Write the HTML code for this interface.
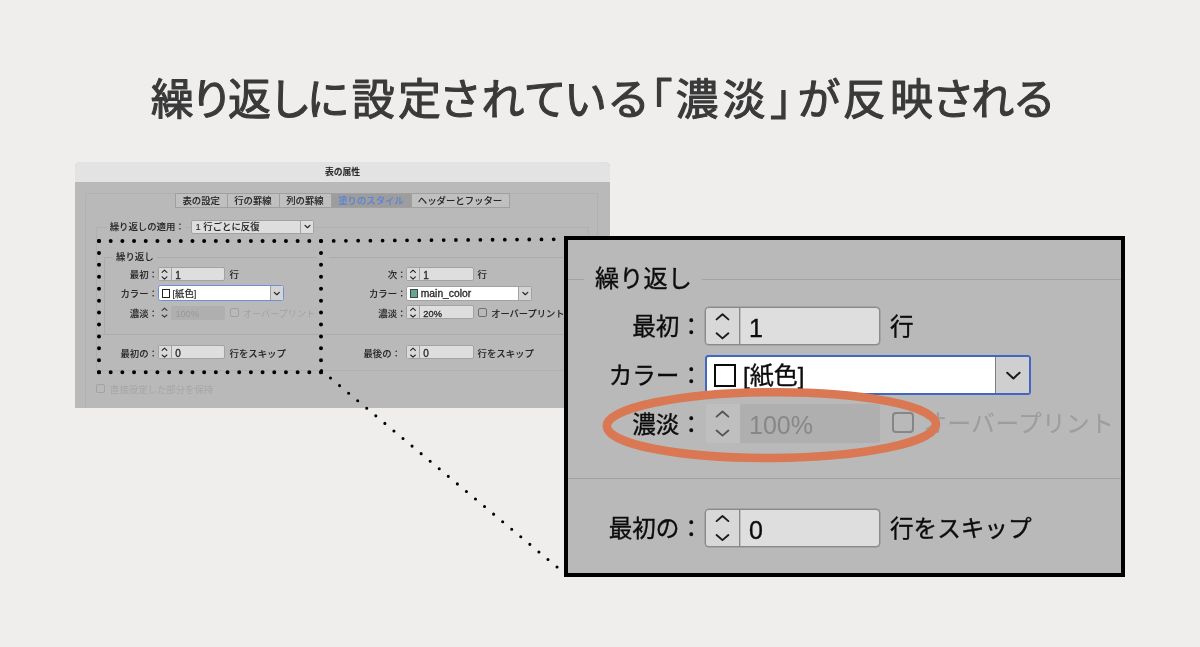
<!DOCTYPE html><html lang="ja"><head><meta charset="utf-8"><title>繰り返しに設定されている「濃淡」が反映される</title><style>
html,body{margin:0;padding:0;}
body{width:1200px;height:647px;overflow:hidden;background:#efeeec;font-family:"Liberation Sans", "Noto Sans CJK JP", sans-serif;}
#stage{will-change:transform;position:relative;width:1200px;height:647px;overflow:hidden;background:#efeeec;}
#stage *{box-sizing:border-box;}
.abs{position:absolute;}
svg{position:absolute;left:0;top:0;overflow:visible;}
svg text{font-family:"Liberation Sans", "Noto Sans CJK JP", sans-serif;}
/* ---------- small dialog ---------- */
.dlg{position:absolute;left:75px;top:162px;width:535px;height:245.5px;background:#b9b9b9;border-radius:5px 5px 0 0;overflow:hidden;font-size:9.4px;color:#262626;font-weight:500;-webkit-text-stroke-width:0.08px;}
.dlg .bar{position:absolute;left:0;top:0;width:100%;height:20px;background:#e3e3e4;text-align:center;line-height:20px;font-weight:700;font-size:8.8px;color:#2a2a2a;}
.t{position:absolute;white-space:nowrap;line-height:14px;height:14px;}
.r{text-align:right;}
.tabs{position:absolute;left:100px;top:31px;height:14.5px;display:flex;border:1px solid #a0a0a0;background:#c0c0c0;}
.tabs div{line-height:14.8px;height:12.5px;text-align:center;border-right:1px solid #a0a0a0;white-space:nowrap;}
.tabs div:last-child{border-right:0;}
.tabs .on{background:#9d9d9d;color:#5b84d6;}
.fld{position:absolute;background:#dedede;border:1px solid #a2a2a2;border-radius:2px;}
.fld i{position:absolute;left:0;top:0;bottom:0;border-right:1px solid #a2a2a2;background:#d9d9d9;}
.sel{position:absolute;background:#fff;border:1px solid #a2a2a2;border-radius:2px;}
.sel i{position:absolute;right:0;top:0;bottom:0;border-left:1px solid #a2a2a2;background:#d4d4d4;}
.ln{position:absolute;background:#acacac;}
.cb{position:absolute;border:1px solid #6e6e6e;border-radius:2px;}
.dis{color:#a2a2a2;-webkit-text-stroke-width:0;font-weight:400;}
/* ---------- zoom panel ---------- */
.pnl{position:absolute;left:564px;top:236px;width:561px;height:341px;background:#000;overflow:hidden;font-size:23.6px;color:#0c0c0c;font-weight:400;-webkit-text-stroke-width:0.35px;}
.pnl .bg{position:absolute;left:3.6px;top:3.6px;right:3.6px;bottom:3.6px;background:#b9b9b9;}
.pnl .t{line-height:34px;height:34px;}
</style></head><body><div id="stage">
<svg width="1200" height="647" viewBox="0 0 1200 647"><text y="115" font-size="43" font-weight="400" fill="#3a3a3a" stroke="#3a3a3a" stroke-width="1.1" stroke-linejoin="round" x="150.8 190.2 228.1 268.5 306.8 351.8 398.0 438.8 481.6 523.6 564.1 607.0 629.6 675.6 722.6 769.9 797.5 842.8 890.0 931.8 971.2 1012.8">繰り返しに設定されている「濃淡」が反映される</text></svg>
<div class="dlg"><div class="bar">表の属性</div><div class="abs" style="left:10px;top:31px;width:513px;height:230px;border:1px solid #b1b1b1;border-bottom:0;"></div><div class="abs" style="left:21px;top:65px;width:492.5px;height:144px;border:1px solid #b0b0b0;"></div><div class="tabs"><div style="width:51.5px">表の設定</div><div style="width:52px">行の罫線</div><div style="width:52px">列の罫線</div><div class="on" style="width:80px">塗りのスタイル</div><div style="width:97px">ヘッダーとフッター</div></div><div class="t r" style="top:57.80px;right:425.30px;background:#b9b9b9;padding-left:3px;">繰り返しの適用：</div><div class="sel" style="left:116px;top:57.5px;width:123px;height:14px;background:#dedede"><i style="width:13px;background:#dedede"></i></div><div class="t " style="top:57.90px;left:120.50px;">1 行ごとに反復</div><div class="ln" style="left:28.5px;top:94.5px;width:213px;height:1px"></div><div class="ln" style="left:28.5px;top:94.5px;width:1px;height:77px"></div><div class="ln" style="left:21px;top:171.5px;width:492px;height:1px"></div><div class="t " style="top:87.80px;left:38.00px;background:#b9b9b9;padding:0 3px;">繰り返し</div><div class="ln" style="left:254px;top:94.5px;width:236px;height:1px"></div><div class="t r" style="top:106.40px;right:452.00px;">最初：</div><div class="fld" style="left:83.0px;top:105.3px;width:67.0px;height:14px"><i style="width:13px"></i></div><div class="t " style="top:106.50px;left:100.30px;font-size:10px;-webkit-text-stroke-width:0.3px">1</div><div class="t " style="top:106.40px;left:154.50px;">行</div><div class="t r" style="top:106.40px;right:203.50px;">次：</div><div class="fld" style="left:331.0px;top:105.3px;width:68.0px;height:14px"><i style="width:13px"></i></div><div class="t " style="top:106.50px;left:348.30px;font-size:10px;-webkit-text-stroke-width:0.3px">1</div><div class="t " style="top:106.40px;left:402.50px;">行</div><div class="t r" style="top:125.40px;right:452.00px;">カラー：</div><div class="sel" style="left:82.5px;top:122.7px;width:126px;height:16.5px;border:1.5px solid #6c8fd8;border-radius:2.5px"><i style="width:12.5px"></i></div><div class="abs" style="left:86.5px;top:127.0px;width:8.5px;height:8.5px;border:1px solid #222;background:#fff"></div><div class="t " style="top:125.40px;left:97.50px;">[紙色]</div><div class="t r" style="top:125.40px;right:203.50px;">カラー：</div><div class="sel" style="left:331px;top:124.0px;width:125.5px;height:14.5px"><i style="width:13px"></i></div><div class="abs" style="left:334.6px;top:127.2px;width:8.5px;height:8.5px;border:1px solid #3c4a45;background:#6aa68f"></div><div class="t " style="top:125.30px;left:345.80px;font-size:10.3px;-webkit-text-stroke-width:0.3px">main_color</div><div class="t r" style="top:144.50px;right:452.00px;">濃淡：</div><div class="abs" style="left:96px;top:143.5px;width:54px;height:14px;background:#afafaf;border-radius:1px"></div><div class="t dis" style="top:144.60px;left:100.50px;color:#989898;font-size:9.1px">100%</div><div class="cb" style="left:154.5px;top:145.5px;width:9px;height:9px;border-color:#a0a0a0"></div><div class="t dis" style="top:144.50px;left:168.00px;font-size:9.1px">オーバープリント</div><div class="t r" style="top:144.50px;right:203.50px;">濃淡：</div><div class="fld" style="left:331.0px;top:143.4px;width:68.0px;height:14px"><i style="width:13px"></i></div><div class="t " style="top:144.60px;left:348.30px;font-size:9.3px;-webkit-text-stroke-width:0.3px">20%</div><div class="t " style="top:144.50px;left:402.50px;"></div><div class="cb" style="left:403px;top:145.5px;width:9px;height:9px"></div><div class="t " style="top:144.50px;left:416.20px;font-size:9.25px">オーバープリント</div><div class="ln" style="left:28.5px;top:171.5px;width:460px;height:1px"></div><div class="t r" style="top:184.50px;right:452.00px;">最初の：</div><div class="fld" style="left:83.0px;top:183.4px;width:67.0px;height:14px"><i style="width:13px"></i></div><div class="t " style="top:184.60px;left:100.30px;font-size:10px;-webkit-text-stroke-width:0.3px">0</div><div class="t " style="top:184.50px;left:154.50px;">行をスキップ</div><div class="t r" style="top:184.50px;right:209.00px;">最後の：</div><div class="fld" style="left:331.0px;top:183.4px;width:68.0px;height:14px"><i style="width:13px"></i></div><div class="t " style="top:184.60px;left:348.30px;font-size:10px;-webkit-text-stroke-width:0.3px">0</div><div class="t " style="top:184.50px;left:402.50px;">行をスキップ</div><div class="cb" style="left:21.3px;top:222.3px;width:9px;height:9px;border-color:#a3a3a3"></div><div class="t dis" style="top:220.90px;left:35.00px;color:#a6a6a6">直接設定した部分を保持</div></div>
<svg width="1200" height="647" viewBox="0 0 1200 647"><path d="M162.10 272.30 l2.4 -2.2 l2.4 2.2 M162.10 276.90 l2.4 2.2 l2.4 -2.2" fill="none" stroke="#222" stroke-width="1.1" stroke-linecap="round" stroke-linejoin="round"/><path d="M162.10 310.40 l2.4 -2.2 l2.4 2.2 M162.10 315.00 l2.4 2.2 l2.4 -2.2" fill="none" stroke="#383838" stroke-width="1.1" stroke-linecap="round" stroke-linejoin="round"/><path d="M162.10 350.40 l2.4 -2.2 l2.4 2.2 M162.10 355.00 l2.4 2.2 l2.4 -2.2" fill="none" stroke="#222" stroke-width="1.1" stroke-linecap="round" stroke-linejoin="round"/><path d="M410.60 272.30 l2.4 -2.2 l2.4 2.2 M410.60 276.90 l2.4 2.2 l2.4 -2.2" fill="none" stroke="#222" stroke-width="1.1" stroke-linecap="round" stroke-linejoin="round"/><path d="M410.60 310.40 l2.4 -2.2 l2.4 2.2 M410.60 315.00 l2.4 2.2 l2.4 -2.2" fill="none" stroke="#222" stroke-width="1.1" stroke-linecap="round" stroke-linejoin="round"/><path d="M410.60 350.40 l2.4 -2.2 l2.4 2.2 M410.60 355.00 l2.4 2.2 l2.4 -2.2" fill="none" stroke="#222" stroke-width="1.1" stroke-linecap="round" stroke-linejoin="round"/><path d="M305.00 225.40 l2.5 2.3 l2.5 -2.3" fill="none" stroke="#222" stroke-width="1.2" stroke-linecap="round" stroke-linejoin="round"/><path d="M274.30 292.40 l2.5 2.3 l2.5 -2.3" fill="none" stroke="#222" stroke-width="1.2" stroke-linecap="round" stroke-linejoin="round"/><path d="M522.80 292.40 l2.5 2.3 l2.5 -2.3" fill="none" stroke="#222" stroke-width="1.2" stroke-linecap="round" stroke-linejoin="round"/><path d="M99 241 H321.1" fill="none" stroke="#000" stroke-width="4" stroke-linecap="round" stroke-dasharray="0 11.684"/><path d="M99 372.2 H321.1" fill="none" stroke="#000" stroke-width="4" stroke-linecap="round" stroke-dasharray="0 11.684"/><path d="M99 241 V372.3" fill="none" stroke="#000" stroke-width="4" stroke-linecap="round" stroke-dasharray="0 11.927"/><path d="M321 241 V372.3" fill="none" stroke="#000" stroke-width="4" stroke-linecap="round" stroke-dasharray="0 11.927"/><path d="M333.7 240.9 L554 239.3" fill="none" stroke="#000" stroke-width="3.8" stroke-linecap="round" stroke-dasharray="0 12.222"/><path d="M321.45 370.5 L557.45 567.4" fill="none" stroke="#000" stroke-width="3.1" stroke-linecap="round" stroke-dasharray="0 11.8"/></svg>
<div class="pnl"><div class="bg"></div><div class="abs" style="left:3.60px;top:42.50px;width:553.80px;height:1.00px;background:#a3a3a3"></div><div class="t " style="top:25.50px;left:19.80px;background:#b9b9b9;padding:0 0 0 11.3px;width:118.7px;font-size:24.2px">繰り返し</div><div class="abs" style="left:3.60px;top:242.30px;width:553.80px;height:1.20px;background:#a1a1a1"></div><div class="t r" style="top:74.30px;right:422.00px;">最初：</div><div class="abs" style="left:141.30px;top:70.80px;width:174.40px;height:38.00px;background:#dedede;border:1px solid #8a8a8a;box-shadow:0 0 0 0.5px #8f8f8f;border-radius:4px;overflow:hidden"><div class="abs" style="left:0;top:0;width:33.5px;height:100%;background:#d8d8d8;border-right:1px solid #8a8a8a;box-shadow:0 0 0 0.4px #8f8f8f"></div></div><div class="t " style="top:74.80px;left:185.00px;font-size:25px">1</div><div class="t " style="top:74.30px;left:326.00px;">行</div><div class="t r" style="top:123.10px;right:422.00px;">カラー：</div><div class="abs" style="left:140.80px;top:118.80px;width:326.00px;height:40.00px;background:#fff;border:2px solid #4166c4;border-radius:3.5px;overflow:hidden"><div class="abs" style="right:0;top:0;width:34px;height:100%;background:#cfcfcf;border-left:1.5px solid #7d7d7d"></div></div><div class="abs" style="left:149.50px;top:128.00px;width:22.50px;height:22.50px;background:#fff;border:2px solid #0a0a0a"></div><div class="t " style="top:123.30px;left:179.00px;font-size:24px">[紙色]</div><div class="t r" style="top:171.50px;right:422.00px;">濃淡：</div><div class="abs" style="left:141.50px;top:168.00px;width:34.00px;height:38.50px;background:#bfbfbf;border-radius:3px 0 0 3px"></div><div class="abs" style="left:175.50px;top:168.00px;width:140.50px;height:38.50px;background:#afafaf;border-radius:0 3px 3px 0"></div><div class="t " style="top:172.00px;left:185.00px;font-size:25px;color:#878787;-webkit-text-stroke-width:0">100%</div><div class="abs" style="left:328.00px;top:176.00px;width:22.00px;height:21.00px;border:2px solid #868686;border-radius:4px"></div><div class="t " style="top:170.80px;left:359.50px;color:#9d9d9d;-webkit-text-stroke-width:0.15px;letter-spacing:0.45px">オーバープリント</div><div class="t r" style="top:276.00px;right:422.00px;">最初の：</div><div class="abs" style="left:141.30px;top:272.50px;width:174.40px;height:38.00px;background:#dedede;border:1px solid #8a8a8a;box-shadow:0 0 0 0.5px #8f8f8f;border-radius:4px;overflow:hidden"><div class="abs" style="left:0;top:0;width:33.5px;height:100%;background:#d8d8d8;border-right:1px solid #8a8a8a;box-shadow:0 0 0 0.4px #8f8f8f"></div></div><div class="t " style="top:276.50px;left:185.00px;font-size:25px">0</div><div class="t " style="top:276.00px;left:326.00px;">行をスキップ</div></div>
<svg width="1200" height="647" viewBox="0 0 1200 647"><path d="M716.60 319.40 l5.9 -5.1 l5.9 5.1 M716.60 333.30 l5.9 5.1 l5.9 -5.1" fill="none" stroke="#1a1a1a" stroke-width="1.9" stroke-linecap="round" stroke-linejoin="round"/><path d="M716.60 416.60 l5.9 -5.1 l5.9 5.1 M716.60 430.50 l5.9 5.1 l5.9 -5.1" fill="none" stroke="#555" stroke-width="1.9" stroke-linecap="round" stroke-linejoin="round"/><path d="M716.60 521.10 l5.9 -5.1 l5.9 5.1 M716.60 535.00 l5.9 5.1 l5.9 -5.1" fill="none" stroke="#1a1a1a" stroke-width="1.9" stroke-linecap="round" stroke-linejoin="round"/><path d="M1007.2 372.7 l6.2 5.7 l6.2 -5.7" fill="none" stroke="#1a1a1a" stroke-width="2" stroke-linecap="round" stroke-linejoin="round"/><ellipse cx="771.4" cy="425.1" rx="164.6" ry="32.9" fill="none" stroke="#d97853" stroke-width="8.6" transform="rotate(-0.35 771.4 425.1)"/></svg>
</div></body></html>
